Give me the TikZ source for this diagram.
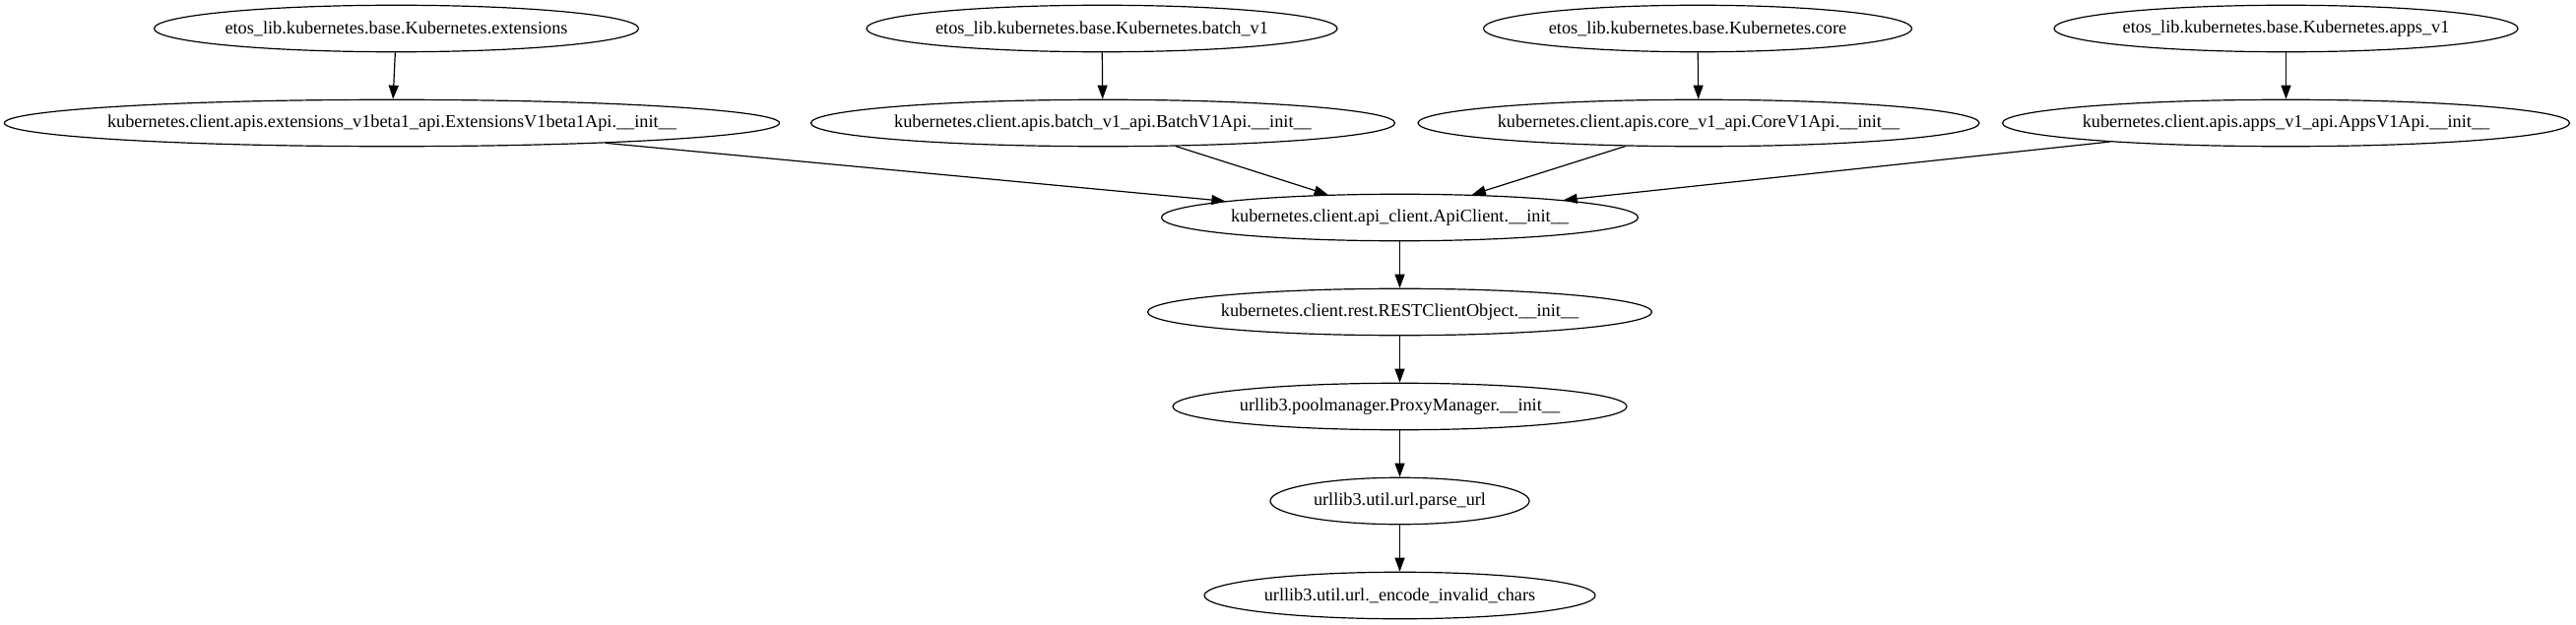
\documentclass[tikz,border=0pt]{standalone}
\usepackage{fontspec}
\setmainfont{Liberation Serif}
\usetikzlibrary{arrows.meta,shapes.geometric}
\begin{document}
\begin{tikzpicture}[
        x=0.75pt, y=-0.75pt,
        callnode/.style={draw, ellipse, line width=0.9pt, inner xsep=-150pt, inner ysep=0pt, minimum height=35.6pt, font=\fontsize{13.7}{16}\selectfont},
        callarrow/.style={-{Triangle[length=10.5pt,width=7.5pt]}, line width=0.9pt},
    ]
        \useasboundingbox (0,0) rectangle (2616,635);
        \node[callnode, minimum width=369pt] (kext) at (402.5,29) {etos\_lib.kubernetes.base.Kubernetes.extensions};
        \node[callnode, minimum width=358.5pt] (kbatch) at (1119,29) {etos\_lib.kubernetes.base.Kubernetes.batch\_v1};
        \node[callnode, minimum width=326.3pt] (kcore) at (1724,29) {etos\_lib.kubernetes.base.Kubernetes.core};
        \node[callnode, minimum width=353.3pt] (kapps) at (2321.5,29) {etos\_lib.kubernetes.base.Kubernetes.apps\_v1};
        \node[callnode, minimum width=590.3pt] (extapi) at (398,125) {kubernetes.client.apis.extensions\_v1beta1\_api.ExtensionsV1beta1Api.\_\_init\_\_};
        \node[callnode, minimum width=444.8pt] (batchapi) at (1120,125) {kubernetes.client.apis.batch\_v1\_api.BatchV1Api.\_\_init\_\_};
        \node[callnode, minimum width=427.5pt] (coreapi) at (1725,125) {kubernetes.client.apis.core\_v1\_api.CoreV1Api.\_\_init\_\_};
        \node[callnode, minimum width=432pt] (appsapi) at (2321.5,125) {kubernetes.client.apis.apps\_v1\_api.AppsV1Api.\_\_init\_\_};
        \node[callnode, minimum width=363pt] (apiclient) at (1421.5,221) {kubernetes.client.api\_client.ApiClient.\_\_init\_\_};
        \node[callnode, minimum width=384pt] (restclient) at (1421.5,317) {kubernetes.client.rest.RESTClientObject.\_\_init\_\_};
        \node[callnode, minimum width=345.8pt] (proxymgr) at (1421.5,413) {urllib3.poolmanager.ProxyManager.\_\_init\_\_};
        \node[callnode, minimum width=197.3pt] (parseurl) at (1421.5,509) {urllib3.util.url.parse\_url};
        \node[callnode, minimum width=297.8pt] (encodechars) at (1421.5,605) {urllib3.util.url.\_encode\_invalid\_chars};

        \draw[callarrow] (kext) -- (extapi);
        \draw[callarrow] (kbatch) -- (batchapi);
        \draw[callarrow] (kcore) -- (coreapi);
        \draw[callarrow] (kapps) -- (appsapi);
        \draw[callarrow] (extapi) -- (apiclient);
        \draw[callarrow] (batchapi) -- (apiclient);
        \draw[callarrow] (coreapi) -- (apiclient);
        \draw[callarrow] (appsapi) -- (apiclient);
        \draw[callarrow] (apiclient) -- (restclient);
        \draw[callarrow] (restclient) -- (proxymgr);
        \draw[callarrow] (proxymgr) -- (parseurl);
        \draw[callarrow] (parseurl) -- (encodechars);
    \end{tikzpicture}
\end{document}
